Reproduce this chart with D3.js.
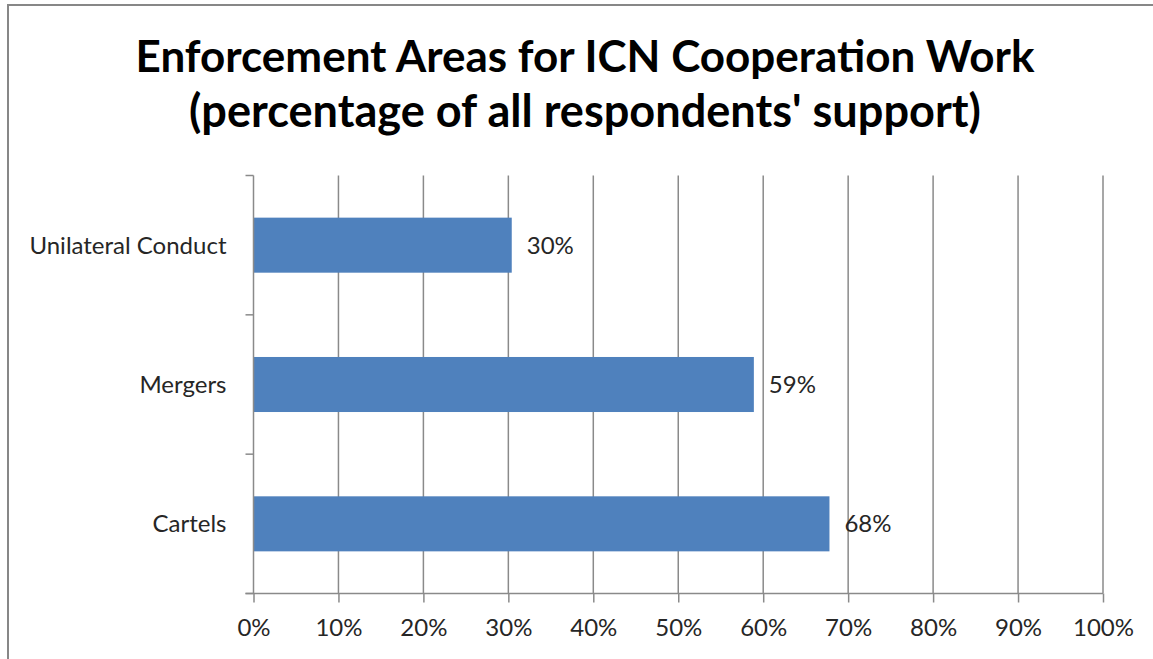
<!DOCTYPE html>
<html>
<head>
<meta charset="utf-8">
<script src="https://cdn.jsdelivr.net/npm/d3@7"></script>
<style>
  body { margin: 0; background: #fff; }
  svg { display: block; font-family: Lato, "Open Sans", sans-serif; }
</style>
</head>
<body>
<div id="vis"></div>
<script>
// data
let categories = ["Unilateral Conduct", "Mergers", "Cartels"]
let values = [30.4, 58.9, 67.8]
let valueLabels = ["30%", "59%", "68%"]
let xTicks = [0, 10, 20, 30, 40, 50, 60, 70, 80, 90, 100]
let titleLines = ["Enforcement Areas for ICN Cooperation Work", "(percentage of all respondents' support)"]

let svgWidth = 1153
let svgHeight = 659

let margin = { left: 253.5, right: 50, top: 175.5, bottom: 66 }
let width = 1103 - margin.left
let height = 593.5 - margin.top

let root = d3.select('#vis')
    .append('svg')
    .attr('width', svgWidth)
    .attr('height', svgHeight)

// outer chart border (runs off the right/bottom of the picture)
root.append('rect')
    .attr('x', 8).attr('y', 5)
    .attr('width', 1300).attr('height', 800)
    .attr('fill', 'none')
    .attr('stroke', '#878787')
    .attr('stroke-width', 2)

// title, each line fitted to its width in the reference
let titleWidths = [899, 792]
let titleBase = [72, 127]
titleLines.forEach((t, i) => {
    let txt = root.append('text')
        .attr('x', 585)
        .attr('y', titleBase[i])
        .attr('text-anchor', 'middle')
        .attr('font-weight', 'bold')
        .attr('font-size', 40)
        .attr('fill', '#000')
        .text(t)
    let w = txt.node().getComputedTextLength()
    txt.attr('font-size', 40 * titleWidths[i] / w)
})

let svg = root.append('g')
    .attr('transform', `translate(${margin.left},${margin.top})`)

// scales
let xScale = d3.scaleLinear()
    .domain([0, 100])
    .range([0, width])

let yScale = d3.scaleBand()
    .domain(categories)
    .range([0, height])
    .paddingInner(0.605)
    .paddingOuter(0.3025)

let gridColor = '#8a8a8a'
let textColor = '#262626'
let labelSize = 24

// vertical gridlines
svg.selectAll('.grid')
    .data(xTicks.slice(1))
    .join('line')
    .attr('class', 'grid')
    .attr('x1', d => xScale(d)).attr('x2', d => xScale(d))
    .attr('y1', 0).attr('y2', height)
    .attr('stroke', gridColor)
    .attr('stroke-width', 1.5)

// bars
svg.selectAll('.bar')
    .data(categories)
    .join('rect')
    .attr('class', 'bar')
    .attr('x', 0)
    .attr('y', d => yScale(d))
    .attr('width', (d, i) => xScale(values[i]))
    .attr('height', yScale.bandwidth())
    .attr('fill', '#4f81bd')

// value labels
svg.selectAll('.vlabel')
    .data(categories)
    .join('text')
    .attr('class', 'vlabel')
    .attr('x', (d, i) => xScale(values[i]) + 15)
    .attr('y', d => yScale(d) + yScale.bandwidth() / 2)
    .attr('dy', '0.36em')
    .attr('font-size', labelSize)
    .attr('fill', textColor)
    .text((d, i) => valueLabels[i])

// x axis
let xAxis = d3.axisBottom(xScale)
    .tickValues(xTicks)
    .tickSize(9)
    .tickSizeOuter(0)
    .tickPadding(16)
    .tickFormat(d => d + '%')

let gx = svg.append('g')
    .attr('id', 'x-axis')
    .attr('transform', `translate(0,${height})`)
    .call(xAxis)
gx.select('.domain').remove()
gx.append('line')
    .attr('x1', -8).attr('x2', width)
    .attr('stroke', gridColor).attr('stroke-width', 1.5)
gx.selectAll('.tick line').attr('stroke', gridColor).attr('stroke-width', 1.5)
gx.selectAll('.tick text')
    .attr('font-size', labelSize)
    .attr('font-family', 'Lato, sans-serif')
    .attr('fill', textColor)

// y axis: line with ticks on category boundaries
let boundaries = d3.range(categories.length + 1).map(i => i * height / categories.length)
let gy = svg.append('g').attr('id', 'y-axis')
gy.append('line')
    .attr('x1', 0).attr('x2', 0)
    .attr('y1', 0).attr('y2', height)
    .attr('stroke', gridColor).attr('stroke-width', 1.5)
gy.selectAll('.ytick')
    .data(boundaries)
    .join('line')
    .attr('class', 'ytick')
    .attr('x1', -8).attr('x2', 0)
    .attr('y1', d => d).attr('y2', d => d)
    .attr('stroke', gridColor).attr('stroke-width', 1.5)
gy.selectAll('.ylabel')
    .data(categories)
    .join('text')
    .attr('class', 'ylabel')
    .attr('x', -27)
    .attr('y', d => yScale(d) + yScale.bandwidth() / 2)
    .attr('dy', '0.36em')
    .attr('text-anchor', 'end')
    .attr('font-size', labelSize)
    .attr('fill', textColor)
    .text(d => d)
</script>
</body>
</html>
